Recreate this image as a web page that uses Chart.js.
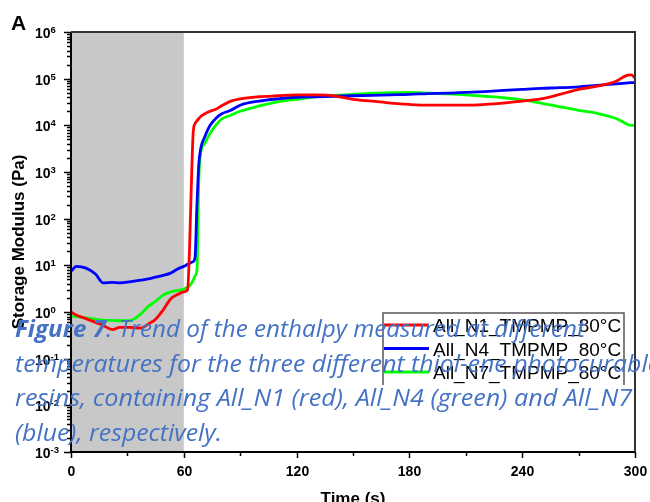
<!DOCTYPE html>
<html>
<head>
<meta charset="utf-8">
<script src="https://cdn.jsdelivr.net/npm/chart.js@4"></script>
<style>
html, body { margin: 0; padding: 0; background: #fff; }
#wrap { position: relative; width: 650px; height: 502px; overflow: hidden; }
#caption {
    position: absolute; left: 15px; top: 311px;
    font-family: "Open Sans", sans-serif; font-style: italic; font-size: 24px;
    line-height: 34.7px; color: #4472c4; white-space: nowrap;
    pointer-events: none;
}
#caption .ln { width: max-content; transform-origin: 0 0; }
</style>
</head>
<body>
<div id="wrap">
    <canvas id="chart" width="650" height="502"></canvas>
    <div id="caption">
        <div class="ln"><b>Figure 7</b>. Trend of the enthalpy measured at different</div>
        <div class="ln">temperatures for the three different thiol-ene photocurable</div>
        <div class="ln">resins, containing All_N1 (red), All_N4 (green) and All_N7</div>
        <div class="ln">(blue), respectively.</div>
    </div>
</div>
<script>
// Data
const seriesLabels = ['All_N1_TMPMP_80°C', 'All_N4_TMPMP_80°C', 'All_N7_TMPMP_80°C'];

const times = [0, 3, 8, 13, 17, 22, 26, 31, 37, 41, 45, 49, 53, 57, 60, 62, 63, 64, 65, 66,
    67, 68, 69, 71, 74, 77, 80, 85, 90, 100, 110, 120, 130, 140, 150, 160, 170, 180, 190, 200,
    210, 220, 230, 240, 250, 260, 270, 280, 290, 295, 298, 300];

const n1 = [1.0, 0.85, 0.72, 0.6, 0.52, 0.42, 0.47, 0.47, 0.45, 0.55, 0.7, 1.1, 1.9, 2.4, 2.7, 3.0, 20, 500, 7000, 1.1e4,
    1.25e4, 1.4e4, 1.55e4, 1.75e4, 2.0e4, 2.2e4, 2.6e4, 3.3e4, 3.7e4, 4.1e4, 4.3e4, 4.5e4, 4.5e4, 4.3e4, 3.6e4, 3.3e4, 3.0e4, 2.8e4, 2.7e4, 2.7e4,
    2.7e4, 2.8e4, 3.0e4, 3.3e4, 3.7e4, 4.6e4, 5.9e4, 6.9e4, 8.8e4, 1.15e5, 1.2e5, 1.03e5];

const n4 = [7.5, 9.5, 8.7, 6.5, 4.2, 4.3, 4.2, 4.4, 4.8, 5.1, 5.6, 6.1, 6.8, 8.5, 9.5, 10.5, 11, 11.5, 12, 15,
    200, 1500, 3200, 5500, 1.0e4, 1.4e4, 1.75e4, 2.1e4, 2.7e4, 3.3e4, 3.7e4, 4.0e4, 4.1e4, 4.2e4, 4.3e4, 4.4e4, 4.5e4, 4.6e4, 4.8e4, 4.9e4,
    5.1e4, 5.3e4, 5.6e4, 5.9e4, 6.2e4, 6.4e4, 6.7e4, 7.2e4, 7.7e4, 8.0e4, 8.2e4, 8.2e4];

const n7 = [0.83, 0.8, 0.75, 0.7, 0.67, 0.66, 0.65, 0.65, 0.9, 1.3, 1.7, 2.3, 2.7, 2.9, 3.1, 3.4, 3.6, 4.1, 4.8, 6,
    8, 700, 2600, 4000, 6800, 1.0e4, 1.35e4, 1.65e4, 2.0e4, 2.6e4, 3.2e4, 3.6e4, 4.1e4, 4.4e4, 4.6e4, 4.9e4, 5.0e4, 5.1e4, 4.9e4, 4.7e4,
    4.5e4, 4.2e4, 3.9e4, 3.5e4, 3.0e4, 2.5e4, 2.1e4, 1.8e4, 1.4e4, 1.1e4, 1.0e4, 1.0e4];

const xTicks = [0, 60, 120, 180, 240, 300];
const xMinorTicks = [30, 90, 150, 210, 270];
const yExponents = [-3, -2, -1, 0, 1, 2, 3, 4, 5, 6];
const shadeRange = [0, 60];

function pts(vals) {
    return times.map((t, i) => ({x: t, y: vals[i]}));
}

// axes, ticks, shaded region and legend drawn by hand
const frame = {
    id: 'frame',
    beforeDatasetsDraw(chart) {
        const {ctx, chartArea: a, scales: {x}} = chart;
        const x0 = x.getPixelForValue(shadeRange[0]);
        const x1 = x.getPixelForValue(shadeRange[1]);
        ctx.save();
        ctx.fillStyle = '#c8c8c8';
        ctx.fillRect(x0, a.top, x1 - x0, a.bottom - a.top);
        ctx.restore();
    },
    afterDatasetsDraw(chart) {
        const {ctx, chartArea: a, scales: {x, y}} = chart;
        ctx.save();

        // frame
        ctx.strokeStyle = '#000';
        ctx.lineWidth = 2;
        ctx.beginPath();
        ctx.moveTo(a.left, a.top); ctx.lineTo(a.left, a.bottom); ctx.lineTo(a.right, a.bottom);
        ctx.stroke();
        ctx.strokeStyle = '#333';
        ctx.beginPath();
        ctx.moveTo(a.left, a.top); ctx.lineTo(a.right, a.top); ctx.lineTo(a.right, a.bottom);
        ctx.stroke();

        // y ticks (log)
        ctx.lineWidth = 1.5;
        ctx.strokeStyle = '#000';
        yExponents.forEach((e, i) => {
            const py = Math.round(y.getPixelForValue(Math.pow(10, e))) + 0.5;
            ctx.beginPath(); ctx.moveTo(a.left - 7, py); ctx.lineTo(a.left, py); ctx.stroke();
            if (i < yExponents.length - 1) {
                for (let m = 2; m < 10; m++) {
                    const pm = Math.round(y.getPixelForValue(m * Math.pow(10, e))) + 0.5;
                    ctx.beginPath(); ctx.moveTo(a.left - 4, pm); ctx.lineTo(a.left, pm); ctx.stroke();
                }
            }
            ctx.fillStyle = '#000';
            ctx.textBaseline = 'alphabetic';
            ctx.textAlign = 'left';
            ctx.font = 'bold 14px "Liberation Sans", Arial, sans-serif';
            ctx.fillText('10', 35, py + 5.5);
            const w = ctx.measureText('10').width;
            ctx.font = 'bold 9.5px "Liberation Sans", Arial, sans-serif';
            ctx.fillText(String(e), 35 + w, py + 0.5);
        });

        // x ticks
        xTicks.forEach(v => {
            const px = Math.round(x.getPixelForValue(v)) + 0.5;
            ctx.beginPath(); ctx.moveTo(px, a.bottom); ctx.lineTo(px, a.bottom + 6); ctx.stroke();
            ctx.font = 'bold 14px "Liberation Sans", Arial, sans-serif';
            ctx.textAlign = 'center';
            ctx.textBaseline = 'alphabetic';
            ctx.fillText(String(v), px, a.bottom + 23.5);
        });
        xMinorTicks.forEach(v => {
            const px = Math.round(x.getPixelForValue(v)) + 0.5;
            ctx.beginPath(); ctx.moveTo(px, a.bottom); ctx.lineTo(px, a.bottom + 4); ctx.stroke();
        });

        // axis titles
        ctx.font = 'bold 17px "Liberation Sans", Arial, sans-serif';
        ctx.textAlign = 'center';
        ctx.textBaseline = 'top';
        ctx.fillText('Time (s)', (a.left + a.right) / 2, 491);
        ctx.save();
        ctx.translate(19, (a.top + a.bottom) / 2);
        ctx.rotate(-Math.PI / 2);
        ctx.textBaseline = 'middle';
        ctx.fillText('Storage Modulus (Pa)', 0, 0);
        ctx.restore();

        // panel letter
        ctx.font = 'bold 21px "Liberation Sans", Arial, sans-serif';
        ctx.textAlign = 'left';
        ctx.textBaseline = 'alphabetic';
        ctx.fillText('A', 11, 30);

        // legend
        const lx = 383, ly = 313, lr = 624, lb = 385;
        ctx.strokeStyle = '#555';
        ctx.lineWidth = 1.5;
        ctx.beginPath();
        ctx.moveTo(lx, lb); ctx.lineTo(lx, ly); ctx.lineTo(lr, ly); ctx.lineTo(lr, lb);
        ctx.stroke();
        ctx.font = '19px "Liberation Sans", Arial, sans-serif';
        ctx.textBaseline = 'alphabetic';
        chart.data.datasets.forEach((ds, i) => {
            const ry = 325 + i * 23.5;
            ctx.strokeStyle = ds.borderColor;
            ctx.lineWidth = 3;
            ctx.beginPath(); ctx.moveTo(lx + 1, ry); ctx.lineTo(lx + 46, ry); ctx.stroke();
            ctx.fillStyle = '#000';
            ctx.fillText(ds.label, 433, ry + 7);
        });
        ctx.restore();
    }
};

const chart = new Chart(document.getElementById('chart'), {
    type: 'line',
    data: {
        datasets: [
            {label: seriesLabels[0], data: pts(n1), borderColor: '#ff0000'},
            {label: seriesLabels[1], data: pts(n4), borderColor: '#0000ff'},
            {label: seriesLabels[2], data: pts(n7), borderColor: '#00ff00'}
        ]
    },
    options: {
        responsive: false,
        animation: false,
        devicePixelRatio: 1,
        datasets: {
            line: {borderWidth: 2.8, pointRadius: 0, fill: false, cubicInterpolationMode: 'monotone'}
        },
        layout: {padding: {left: 71, top: 32, right: 15, bottom: 50}},
        plugins: {legend: {display: false}, tooltip: {enabled: false}},
        scales: {
            x: {type: 'linear', min: 0, max: 300, display: false},
            y: {type: 'logarithmic', min: 1e-3, max: 1e6, display: false}
        }
    },
    plugins: [frame]
});

// squeeze each caption line to the width it has in the picture
const lineWidths = [570, 645, 617, 207];
document.querySelectorAll('#caption .ln').forEach((ln, i) => {
    const w = ln.getBoundingClientRect().width;
    ln.style.transform = 'scaleX(' + (lineWidths[i] / w) + ')';
});
</script>
</body>
</html>
